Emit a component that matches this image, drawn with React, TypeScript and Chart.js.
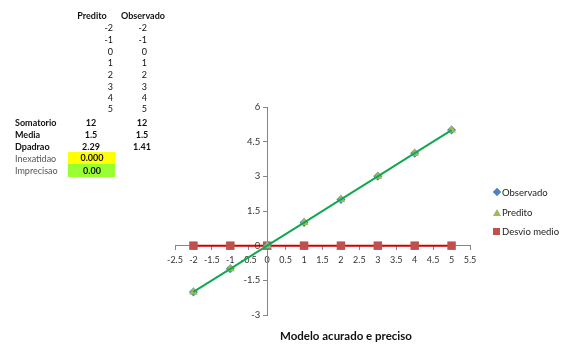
import React, { useEffect, useRef } from "react";
import { Chart, registerables } from "chart.js";

Chart.register(...registerables);

// Series data
const xValues = [-2, -1, 0, 1, 2, 3, 4, 5];
const observado = [-2, -1, 0, 1, 2, 3, 4, 5];
const predito = [-2, -1, 0, 1, 2, 3, 4, 5];
const desvioMedio = [0, 0, 0, 0, 0, 0, 0, 0];

// Axis ranges
const xMin = -2.5;
const xMax = 5.5;
const xStep = 0.5;
const yMin = -3;
const yMax = 6;
const yStep = 1.5;

// Summary table
const tablePredito = ["-2", "-1", "0", "1", "2", "3", "4", "5"];
const tableObservado = ["-2", "-1", "0", "1", "2", "3", "4", "5"];
const summaryLabels = ["Somatorio", "Media", "Dpadrao"];
const summaryPredito = ["12", "1.5", "2.29"];
const summaryObservado = ["12", "1.5", "1.41"];
const inexatidao = "0.000";
const imprecisao = "0.00";

const chartTitle = "Modelo acurado e preciso";
const legendLabels = ["Observado", "Predito", "Desvio medio"];

const FONT = "Lato, 'Open Sans', sans-serif";
const AXIS_GRAY = "#868686";

function toPoints(ys: number[]) {
  return xValues.map((x, i) => ({ x, y: ys[i] }));
}

const plainNumber = (v: string | number) => String(Number(v));

function ChartCanvas() {
  const ref = useRef<HTMLCanvasElement | null>(null);

  useEffect(() => {
    if (!ref.current) return;
    const fitX = (scale: any) => {
      scale.height = 0;
    };
    // The y axis crosses at x = 0; its labels are shifted left of the tick marks.
    const fitY = (scale: any) => {
      scale.width = 0;
      if (!scale.__shifted) {
        const drawLabels = scale.drawLabels.bind(scale);
        scale.drawLabels = (area: any) => {
          const ctx = scale.ctx;
          ctx.save();
          ctx.translate(-7, 0);
          drawLabels(area);
          ctx.restore();
        };
        scale.__shifted = true;
      }
    };
    const chart = new Chart(ref.current, {
      type: "scatter",
      data: {
        datasets: [
          {
            label: "Tendencia",
            data: toPoints(predito),
            showLine: true,
            borderColor: "#12A84E",
            borderWidth: 2,
            pointRadius: 0,
          },
          {
            label: legendLabels[1],
            data: toPoints(predito),
            pointStyle: "triangle",
            pointRadius: 5,
            backgroundColor: "#9BBB59",
            borderColor: "#9BBB59",
            borderWidth: 0,
          },
          {
            label: legendLabels[0],
            data: toPoints(observado),
            pointStyle: "rectRot",
            pointRadius: 4.5,
            backgroundColor: "#4F81BD",
            borderColor: "#4F81BD",
            borderWidth: 0,
          },
          {
            label: legendLabels[2],
            data: toPoints(desvioMedio),
            showLine: true,
            borderColor: "#D00000",
            borderWidth: 2,
            pointStyle: "rect",
            pointRadius: 6,
            pointBackgroundColor: "#C0504D",
            pointBorderColor: "#C0504D",
            pointBorderWidth: 0,
          },
        ],
      },
      options: {
        animation: false,
        responsive: false,
        maintainAspectRatio: false,
        layout: { padding: { left: 175, right: 97, top: 107, bottom: 33 } },
        plugins: {
          legend: { display: false },
          tooltip: { enabled: false },
          title: { display: false },
        },
        scales: {
          x: {
            type: "linear",
            min: xMin,
            max: xMax,
            position: { y: 0 },
            afterFit: fitX,
            border: { color: AXIS_GRAY, width: 1 },
            grid: {
              drawOnChartArea: false,
              drawTicks: true,
              tickLength: 4,
              color: AXIS_GRAY,
            },
            ticks: {
              stepSize: xStep,
              autoSkip: false,
              maxRotation: 0,
              padding: 5,
              color: "#333333",
              font: { family: FONT, size: 9 },
              callback: plainNumber,
            },
          },
          y: {
            type: "linear",
            min: yMin,
            max: yMax,
            position: { x: 0 },
            afterFit: fitY,
            border: { color: AXIS_GRAY, width: 1 },
            grid: {
              drawOnChartArea: false,
              drawTicks: true,
              tickLength: 4,
              color: AXIS_GRAY,
            },
            ticks: {
              stepSize: yStep,
              autoSkip: false,
              color: "#333333",
              font: { family: FONT, size: 9.5 },
              callback: plainNumber,
            },
          },
        },
      },
    });
    return () => chart.destroy();
  }, []);

  return (
    <canvas
      ref={ref}
      width={567}
      height={348}
      style={{ position: "absolute", left: 0, top: 0, width: 567, height: 348 }}
    />
  );
}

const cell = (
  text: string,
  x: number,
  y: number,
  align: "left" | "right" | "center",
  bold: boolean,
  color = "#111"
): React.ReactElement => {
  const w = 60;
  const left = align === "left" ? x : align === "right" ? x - w : x - w / 2;
  return (
    <div
      key={`${text}-${x}-${y}`}
      style={{
        position: "absolute",
        left,
        top: y - 6,
        width: w,
        height: 12,
        lineHeight: "12px",
        textAlign: align,
        fontFamily: FONT,
        fontSize: 9,
        fontWeight: bold ? 700 : 400,
        color,
        whiteSpace: "nowrap",
      }}
    >
      {text}
    </div>
  );
};

function DataTable() {
  const rowYs = [28, 40, 52, 63, 75, 87, 98, 109];
  const sumYs = [123, 135, 147];
  const items: React.ReactElement[] = [];
  items.push(cell("Predito", 92, 16, "center", true));
  items.push(cell("Observado", 143, 16, "center", true));
  tablePredito.forEach((v, i) => items.push(cell(v, 113, rowYs[i], "right", false)));
  tableObservado.forEach((v, i) => items.push(cell(v, 147, rowYs[i], "right", false)));
  summaryLabels.forEach((v, i) => items.push(cell(v, 15, sumYs[i], "left", true)));
  summaryPredito.forEach((v, i) => items.push(cell(v, 91, sumYs[i], "center", true)));
  summaryObservado.forEach((v, i) => items.push(cell(v, 142, sumYs[i], "center", true)));
  return (
    <>
      <div style={{ position: "absolute", left: 68, top: 152, width: 47, height: 12, background: "#FFFF00" }} />
      <div style={{ position: "absolute", left: 68, top: 164, width: 47, height: 13, background: "#99FF33" }} />
      {items}
      {cell("Inexatidao", 15, 159, "left", false, "#555")}
      {cell("Imprecisao", 15, 171, "left", false, "#555")}
      {cell(inexatidao, 92, 158, "center", true)}
      {cell(imprecisao, 92, 171, "center", true)}
    </>
  );
}

function Legend() {
  const ys = [192, 212, 231];
  const markers = [
    <div style={{ width: 6, height: 6, background: "#4F81BD", transform: "rotate(45deg)", margin: "1px" }} />,
    <div
      style={{
        width: 0,
        height: 0,
        borderLeft: "4px solid transparent",
        borderRight: "4px solid transparent",
        borderBottom: "7px solid #9BBB59",
      }}
    />,
    <div style={{ width: 7, height: 7, background: "#C0504D" }} />,
  ];
  return (
    <>
      {legendLabels.map((label, i) => (
        <div
          key={label}
          style={{
            position: "absolute",
            left: 492,
            top: ys[i] - 7,
            height: 14,
            display: "flex",
            alignItems: "center",
            fontFamily: FONT,
            fontSize: 9.5,
            color: "#222",
            whiteSpace: "nowrap",
          }}
        >
          <div style={{ width: 9, display: "flex", justifyContent: "center" }}>{markers[i]}</div>
          <span style={{ marginLeft: 1 }}>{label}</span>
        </div>
      ))}
    </>
  );
}

export default function App() {
  return (
    <div
      style={{
        position: "fixed",
        left: 0,
        top: 0,
        width: 567,
        height: 348,
        background: "#ffffff",
        overflow: "hidden",
      }}
    >
      <ChartCanvas />
      <DataTable />
      <Legend />
      <div
        style={{
          position: "absolute",
          left: 246,
          top: 329,
          width: 200,
          textAlign: "center",
          fontFamily: FONT,
          fontSize: 11.5,
          fontWeight: 700,
          color: "#111",
        }}
      >
        {chartTitle}
      </div>
    </div>
  );
}
